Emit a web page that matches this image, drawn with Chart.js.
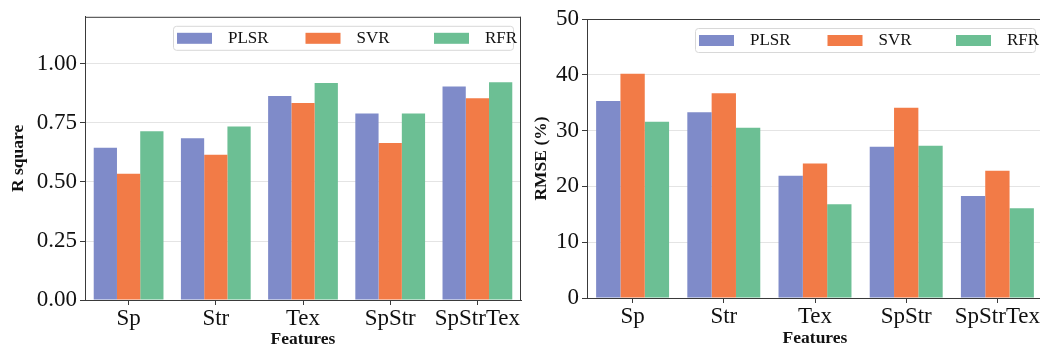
<!DOCTYPE html>
<html><head><meta charset="utf-8">
<script src="https://cdn.jsdelivr.net/npm/chart.js@4.4.1/dist/chart.umd.min.js"></script>
<style>
html,body{margin:0;padding:0;background:#fff;overflow:hidden;width:1040px;height:347px;}
#c1{position:absolute;left:0;top:0;}
#c2{position:absolute;left:520px;top:0;}
</style></head><body>
<canvas id="c1" width="530" height="350"></canvas>
<canvas id="c2" width="540" height="350"></canvas>
<script>
const categories = ['Sp', 'Str', 'Tex', 'SpStr', 'SpStrTex'];
const seriesNames = ['PLSR', 'SVR', 'RFR'];
const seriesColors = ['#7f8bc9', '#f27b47', '#6cbf94'];
const r2PLSR = [0.645, 0.685, 0.864, 0.790, 0.905];
const r2SVR  = [0.535, 0.615, 0.835, 0.665, 0.855];
const r2RFR  = [0.715, 0.735, 0.920, 0.790, 0.923];
const rmsePLSR = [35.3, 33.3, 21.9, 27.1, 18.3];
const rmseSVR  = [40.2, 36.7, 24.1, 34.1, 22.8];
const rmseRFR  = [31.6, 30.5, 16.8, 27.3, 16.1];
const r2Ticks = [0, 0.25, 0.5, 0.75, 1.0];
const rmseTicks = [0, 10, 20, 30, 40, 50];

const SERIF = "'Liberation Serif', 'Times New Roman', serif";
const AXIS = '#3a3a3a';

const framePlugin = {
  id: 'frame',
  afterDatasetsDraw(chart) {
    const a = chart.chartArea, ctx = chart.ctx;
    ctx.save();
    ctx.strokeStyle = AXIS; ctx.lineWidth = 1;
    ctx.beginPath();
    ctx.moveTo(a.left, a.top + 0.5); ctx.lineTo(a.right, a.top + 0.5);
    ctx.moveTo(a.right - 0.5, a.top); ctx.lineTo(a.right - 0.5, a.bottom);
    ctx.stroke();
    ctx.restore();
  }
};

const innerLegend = {
  id: 'innerLegend',
  afterDatasetsDraw(chart) {
    const a = chart.chartArea, ctx = chart.ctx;
    const w = 340, h = 24;
    const x0 = a.right - 8 - w, y0 = a.top + 9;
    ctx.save();
    ctx.beginPath();
    if (ctx.roundRect) ctx.roundRect(x0 + 0.5, y0 + 0.5, w, h, 3); else ctx.rect(x0 + 0.5, y0 + 0.5, w, h);
    ctx.fillStyle = 'rgba(255,255,255,0.85)';
    ctx.fill();
    ctx.strokeStyle = '#d8d8d8'; ctx.lineWidth = 1; ctx.stroke();
    ctx.font = '17px ' + SERIF;
    ctx.textBaseline = 'middle';
    chart.data.datasets.forEach((ds, i) => {
      const sx = x0 + 4 + i * 128.5;
      ctx.fillStyle = ds.backgroundColor;
      ctx.fillRect(sx, y0 + 7, 35, 11);
      ctx.fillStyle = '#111';
      ctx.fillText(ds.label, sx + 51, y0 + h / 2 + 1);
    });
    ctx.restore();
  }
};

function makeChart(id, series, yTicks, yMax, yTitle, cfg) {
  return new Chart(document.getElementById(id), {
    type: 'bar',
    data: {
      labels: categories,
      datasets: series.map((d, i) => ({
        label: seriesNames[i], data: d,
        backgroundColor: seriesColors[i],
        borderWidth: 0,
        categoryPercentage: 0.8, barPercentage: 1.0
      }))
    },
    options: {
      responsive: false, animation: false,
      devicePixelRatio: 1,
      layout: { padding: { top: cfg.top, right: cfg.right, left: 0, bottom: 0 } },
      plugins: { legend: { display: false }, tooltip: { enabled: false } },
      scales: {
        x: {
          grid: { display: true, drawOnChartArea: false, drawTicks: true, tickLength: 5, tickColor: AXIS, offset: false },
          border: { color: AXIS, width: 1 },
          ticks: { color: '#111', font: { family: SERIF, size: 23 }, padding: cfg.xPad, maxRotation: 0, autoSkip: false },
          title: { display: true, text: 'Features', color: '#111',
                   font: { family: SERIF, size: 17.5, weight: 'bold', lineHeight: 1 },
                   padding: { top: 0, bottom: cfg.xTitlePad } },
          afterFit(s) { s.height = cfg.xH; }
        },
        y: {
          min: 0, max: yMax,
          grid: { color: '#e4e4e4', lineWidth: 1, tickLength: 5, tickColor: AXIS, drawTicks: true },
          border: { color: AXIS, width: 1 },
          ticks: { color: '#111', font: { family: SERIF, size: 23 }, padding: 3, includeBounds: false,
                   callback: cfg.fmt },
          afterBuildTicks(s) { s.ticks = yTicks.map(v => ({ value: v })); },
          title: { display: true, text: yTitle, color: '#111',
                   font: { family: SERIF, size: 17.5, weight: 'bold', lineHeight: 1 },
                   padding: { top: cfg.yTitlePad, bottom: 0 } },
          afterFit(s) { s.width = cfg.yW; }
        }
      }
    },
    plugins: [framePlugin, innerLegend]
  });
}

makeChart('c1', [r2PLSR, r2SVR, r2RFR], r2Ticks, 1.2, 'R square',
  { top: 13, right: 9, xH: 50, yW: 85, xPad: 0, xTitlePad: 1.5, yTitlePad: 10, fmt: v => v.toFixed(2) });
makeChart('c2', [rmsePLSR, rmseSVR, rmseRFR], rmseTicks, 50, 'RMSE (%)',
  { top: 19, right: 17, xH: 52, yW: 67, xPad: 0, xTitlePad: 2.5, yTitlePad: 12.5, fmt: v => String(v) });
</script>
</body></html>
